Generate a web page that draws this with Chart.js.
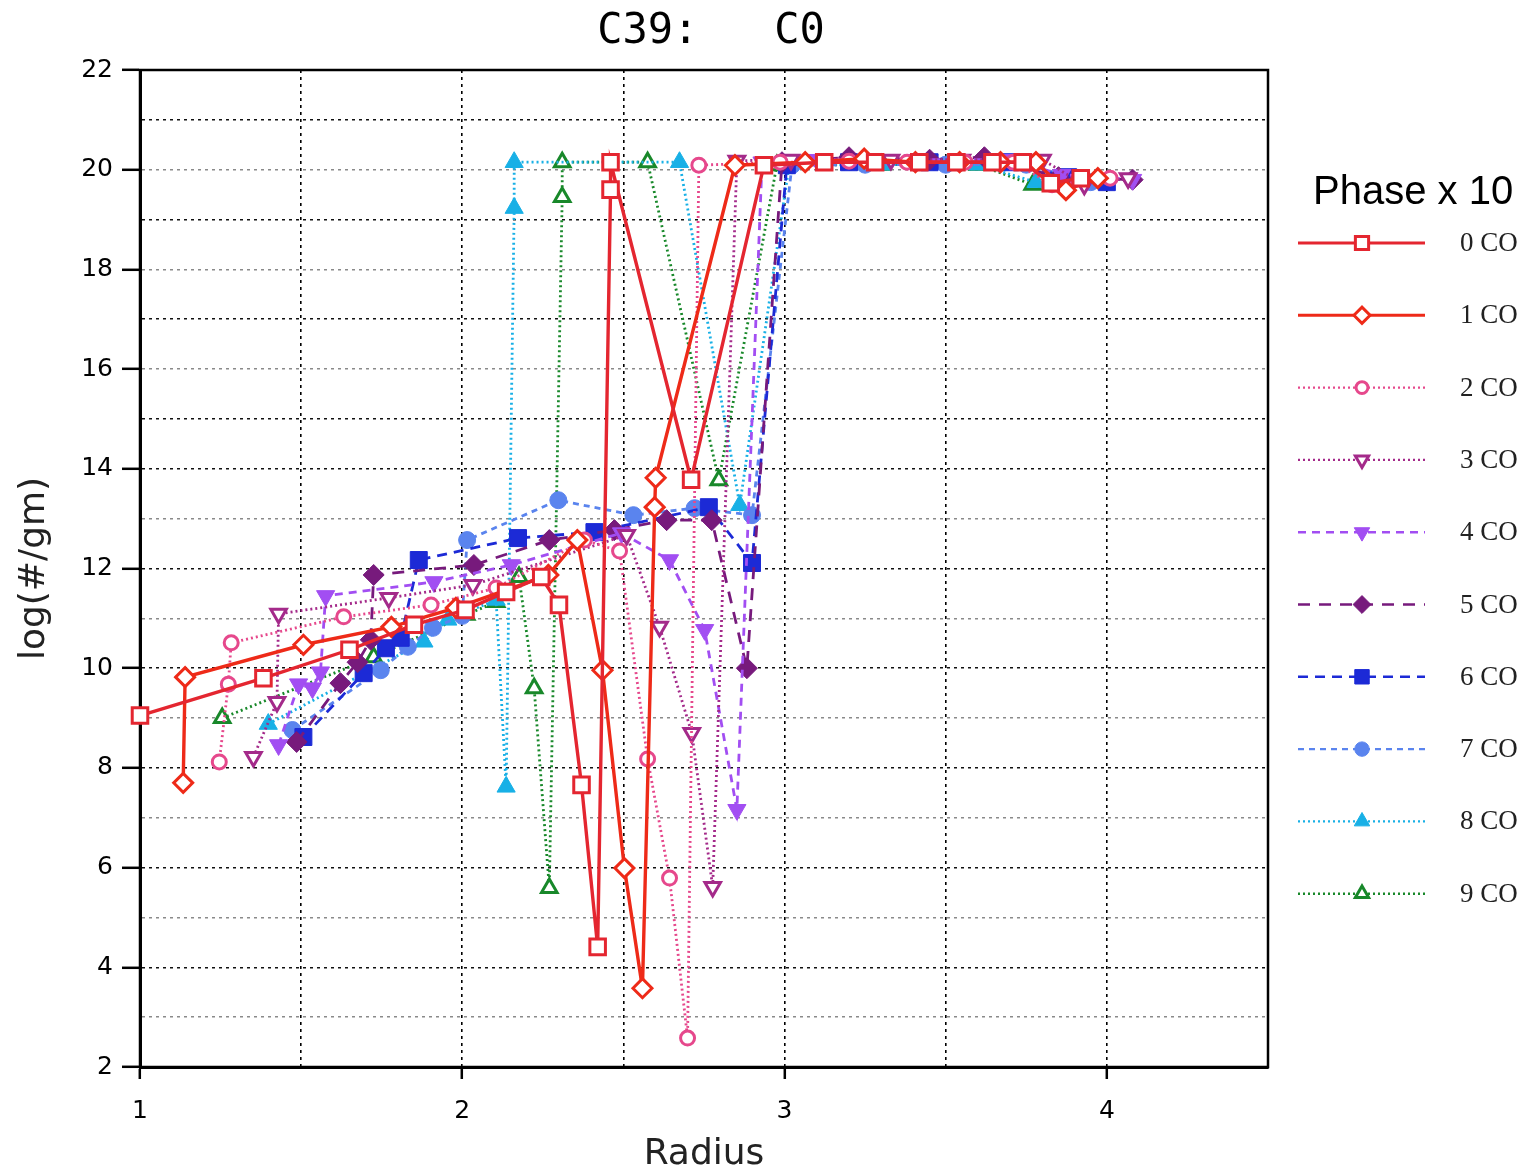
<!DOCTYPE html>
<html>
<head>
<meta charset="utf-8">
<title>C39: C0</title>
<script src="https://cdn.jsdelivr.net/npm/chart.js@4.4.0/dist/chart.umd.min.js"></script>
<style>
  html, body { margin: 0; padding: 0; background: #fff; }
  #wrap { position: relative; width: 1532px; height: 1176px; overflow: hidden; }
  #chart { position: absolute; left: 0; top: 0; }
  #title {
    position: absolute; left: 0; top: 8px; width: 1422px; text-align: center;
    font: 42px "DejaVu Sans Mono", monospace; line-height: 42px; white-space: pre; color: #000;
  }
  #phase {
    position: absolute; left: 1313px; top: 166px;
    font: 40px "Liberation Sans", Arial, sans-serif; line-height: 48px; color: #000; white-space: pre;
  }
  .lg {
    position: absolute; left: 1460px; font: 27px "Liberation Serif", "Times New Roman", serif;
    line-height: 30px; color: #222; white-space: pre;
  }
</style>
</head>
<body>
<div id="wrap">
  <canvas id="chart" width="1532" height="1176"></canvas>
  <div id="title">C39:   C0</div>
  <div id="phase">Phase x 10</div>
  <div id="legend"></div>
</div>
<script>
// ── Data ──────────────────────────────────────────────────
const SERIES_LABELS = ['0 CO', '1 CO', '2 CO', '3 CO', '4 CO', '5 CO', '6 CO', '7 CO', '8 CO', '9 CO'];
const X_TICK_LABELS = [1, 2, 3, 4];
const Y_TICK_LABELS = [2, 4, 6, 8, 10, 12, 14, 16, 18, 20, 22];

const radius0 = [1.00, 1.383, 1.65, 1.85, 2.01, 2.136, 2.245, 2.30, 2.37, 2.42, 2.46, 2.46, 2.71, 2.936, 3.123, 3.281, 3.418, 3.533, 3.645, 3.739, 3.826, 3.919];
const logN0   = [9.05, 9.80, 10.37, 10.87, 11.17, 11.53, 11.83, 11.27, 7.66, 4.41, 19.60, 20.15, 13.78, 20.09, 20.15, 20.15, 20.15, 20.15, 20.15, 20.15, 19.73, 19.83];

const radius1 = [1.134, 1.14, 1.507, 1.78, 1.98, 2.267, 2.357, 2.435, 2.503, 2.559, 2.597, 2.60, 2.846, 3.064, 3.247, 3.406, 3.543, 3.67, 3.78, 3.873, 3.972];
const logN1   = [7.70, 9.82, 10.47, 10.83, 11.21, 11.87, 12.57, 9.96, 5.99, 3.58, 13.23, 13.82, 20.09, 20.15, 20.22, 20.15, 20.15, 20.15, 20.15, 19.59, 19.83];

const radius2 = [1.246, 1.274, 1.283, 1.632, 1.903, 2.105, 2.379, 2.488, 2.575, 2.643, 2.699, 2.734, 2.986, 3.20, 3.38, 3.56, 3.71, 3.83, 4.01];
const logN2   = [8.12, 9.68, 10.51, 11.03, 11.27, 11.61, 12.57, 12.35, 8.18, 5.79, 2.58, 20.09, 20.15, 20.17, 20.15, 20.15, 20.15, 19.70, 19.83];

const radius3 = [1.352, 1.425, 1.43, 1.772, 2.033, 2.51, 2.612, 2.712, 2.777, 2.852, 3.02, 3.33, 3.55, 3.80, 3.93, 4.066];
const logN3   = [8.22, 9.32, 11.09, 11.41, 11.67, 12.67, 10.83, 8.70, 5.61, 20.18, 20.20, 20.20, 20.20, 20.20, 19.70, 19.83];

const radius4 = [1.43, 1.492, 1.535, 1.56, 1.576, 1.912, 2.152, 2.494, 2.643, 2.752, 2.852, 2.93, 3.10, 3.40, 3.70, 3.86, 4.08];
const logN4   = [8.46, 9.68, 9.60, 9.92, 11.45, 11.73, 12.07, 12.71, 12.17, 10.77, 7.16, 20.15, 20.20, 20.20, 20.20, 19.90, 19.80];

const radius5 = [1.486, 1.622, 1.675, 1.716, 1.725, 2.036, 2.27, 2.472, 2.634, 2.774, 2.883, 2.992, 3.20, 3.45, 3.62, 3.85, 4.08];
const logN5   = [8.52, 9.70, 10.12, 10.57, 11.87, 12.07, 12.57, 12.77, 12.97, 12.97, 10.00, 20.15, 20.25, 20.20, 20.25, 19.85, 19.80];

const radius6 = [1.507, 1.694, 1.763, 1.809, 1.865, 2.173, 2.41, 2.765, 2.899, 3.007, 3.20, 3.45, 3.70, 3.88, 4.00];
const logN6   = [8.62, 9.90, 10.40, 10.61, 12.17, 12.61, 12.73, 13.23, 12.11, 20.09, 20.15, 20.15, 20.15, 19.85, 19.75];

const radius7 = [1.473, 1.747, 1.831, 1.909, 2.00, 2.015, 2.298, 2.531, 2.721, 2.899, 3.023, 3.25, 3.50, 3.75, 3.95];
const logN7   = [8.76, 9.96, 10.43, 10.81, 11.05, 12.57, 13.37, 13.07, 13.21, 13.07, 20.09, 20.10, 20.10, 20.10, 19.75];

const radius8 = [1.398, 1.881, 1.955, 2.105, 2.136, 2.161, 2.161, 2.674, 2.861, 3.014, 3.30, 3.60, 3.78];
const logN8   = [8.88, 10.53, 10.97, 11.37, 7.62, 19.23, 20.15, 20.15, 13.27, 20.09, 20.10, 20.10, 19.75];

const radius9 = [1.255, 1.725, 2.012, 2.105, 2.176, 2.223, 2.27, 2.31, 2.31, 2.575, 2.796, 2.976, 3.30, 3.60, 3.77];
const logN9   = [9.00, 10.22, 11.07, 11.33, 11.83, 9.60, 5.59, 19.45, 20.15, 20.15, 13.77, 20.09, 20.10, 20.10, 19.70];

const RADII = [radius0, radius1, radius2, radius3, radius4, radius5, radius6, radius7, radius8, radius9];
const LOGS  = [logN0, logN1, logN2, logN3, logN4, logN5, logN6, logN7, logN8, logN9];

// ── Styles ────────────────────────────────────────────────
const STYLES = [
  { c: '#e42630', dash: [],      lw: 3.4, ps: 'rect',     rot: 0,   r: 11,   open: true  },
  { c: '#ee2a18', dash: [],      lw: 3.4, ps: 'rectRot',  rot: 0,   r: 9.5,  open: true  },
  { c: '#e6488c', dash: [2, 3],  lw: 2.8, ps: 'circle',   rot: 0,   r: 7,    open: true  },
  { c: '#a42a8a', dash: [2, 3],  lw: 2.8, ps: 'triangle', rot: 180, r: 9,    open: true  },
  { c: '#a24ef2', dash: [8, 6],  lw: 2.8, ps: 'triangle', rot: 180, r: 10.5, open: false },
  { c: '#771a7c', dash: [12, 9], lw: 2.8, ps: 'rectRot',  rot: 0,   r: 10.5, open: false },
  { c: '#1c2ad6', dash: [10, 7], lw: 2.8, ps: 'rect',     rot: 0,   r: 12,   open: false },
  { c: '#5a84ee', dash: [6, 5],  lw: 2.8, ps: 'circle',   rot: 0,   r: 8.5,  open: false },
  { c: '#18b0e6', dash: [2, 3],  lw: 2.8, ps: 'triangle', rot: 0,   r: 10.5, open: false },
  { c: '#18882a', dash: [2, 3],  lw: 2.8, ps: 'triangle', rot: 0,   r: 9,    open: true  },
];

const datasets = SERIES_LABELS.map((label, i) => {
  const s = STYLES[i];
  return {
    label,
    data: RADII[i].map((x, k) => ({ x, y: LOGS[i][k] })),
    borderColor: s.c,
    borderWidth: s.lw,
    borderDash: s.dash,
    tension: 0,
    fill: false,
    clip: false,
    pointStyle: s.ps,
    pointRotation: s.rot,
    pointRadius: s.r,
    pointHoverRadius: s.r,
    pointBackgroundColor: s.open ? '#ffffff' : s.c,
    pointBorderColor: s.c,
    pointBorderWidth: s.open ? 3 : 1,
  };
});

// ── Plugins: plot frame + legend samples ─────────────────
const frame = {
  id: 'frame',
  beforeDatasetsDraw(chart) {
    const { ctx, chartArea: a } = chart;
    ctx.save();
    ctx.strokeStyle = '#000';
    ctx.lineWidth = 2.5;
    ctx.strokeRect(a.left, a.top, a.right - a.left, a.bottom - a.top);
    ctx.restore();
  },
};

const LEGEND_TOP = 243, LEGEND_STEP = 72.3;
const legendSamples = {
  id: 'legendSamples',
  afterDraw(chart) {
    const ctx = chart.ctx;
    chart.data.datasets.forEach((ds, i) => {
      const y = LEGEND_TOP + i * LEGEND_STEP;
      ctx.save();
      ctx.strokeStyle = ds.borderColor;
      ctx.lineWidth = ds.borderWidth * 0.85;
      ctx.setLineDash(ds.borderDash);
      ctx.beginPath();
      ctx.moveTo(1298, y);
      ctx.lineTo(1425, y);
      ctx.stroke();
      ctx.setLineDash([]);
      ctx.fillStyle = ds.pointBackgroundColor;
      ctx.strokeStyle = ds.pointBorderColor;
      ctx.lineWidth = ds.pointBorderWidth;
      Chart.helpers.drawPoint(ctx, {
        pointStyle: ds.pointStyle, rotation: ds.pointRotation,
        radius: ds.pointRadius * 0.85, borderWidth: ds.pointBorderWidth,
      }, 1362, y);
      ctx.restore();
    });
  },
};

document.getElementById('legend').innerHTML = SERIES_LABELS.map((t, i) =>
  `<div class="lg" style="top:${(LEGEND_TOP + i * LEGEND_STEP - 16).toFixed(1)}px">${t}</div>`
).join('');

// ── Chart ────────────────────────────────────────────────
const tickFont = { family: 'DejaVu Sans', size: 25 };
const titleFont = { family: 'DejaVu Sans', size: 36 };

new Chart(document.getElementById('chart'), {
  type: 'line',
  data: { datasets },
  options: {
    responsive: false,
    animation: false,
    events: [],
    layout: { padding: { top: 70, right: 264, left: 0, bottom: 0 } },
    plugins: { legend: { display: false }, tooltip: { enabled: false } },
    scales: {
      x: {
        type: 'linear', min: 1, max: 4.5,
        afterFit: s => { s.height = 109; },
        ticks: {
          stepSize: 0.5, autoSkip: false, maxRotation: 0, padding: 17,
          color: '#000', font: tickFont,
          callback: v => X_TICK_LABELS.includes(v) ? String(v) : '',
        },
        grid: {
          color: '#000', lineWidth: 1.6, tickLength: 12, tickWidth: 2.5,
          tickColor: c => X_TICK_LABELS.includes(c.tick.value) ? '#000' : 'rgba(0,0,0,0)',
        },
        border: { color: '#000', width: 3, dash: [3, 4] },
        title: { display: true, text: 'Radius', color: '#222', font: titleFont, padding: { top: 0, bottom: 0 } },
      },
      y: {
        type: 'linear', min: 2, max: 22,
        afterFit: s => { s.width = 140; },
        ticks: {
          stepSize: 1, autoSkip: false, padding: 9,
          color: '#000', font: tickFont,
          callback: v => Y_TICK_LABELS.includes(v) ? String(v) : '',
        },
        grid: {
          lineWidth: 1.6, tickLength: 18, tickWidth: 2.5,
          color: c => {
            const v = c.tick.value;
            const dark = v >= 15 ? v % 2 === 1 : v % 2 === 0;
            return dark ? '#111' : '#8a8a8a';
          },
          tickColor: c => Y_TICK_LABELS.includes(c.tick.value) ? '#000' : 'rgba(0,0,0,0)',
        },
        border: { color: '#000', width: 3, dash: [3, 4] },
        title: { display: true, text: 'log(#/gm)', color: '#222', font: titleFont, padding: { top: 13, bottom: 0 } },
      },
    },
  },
  plugins: [frame, legendSamples],
});
</script>
</body>
</html>
